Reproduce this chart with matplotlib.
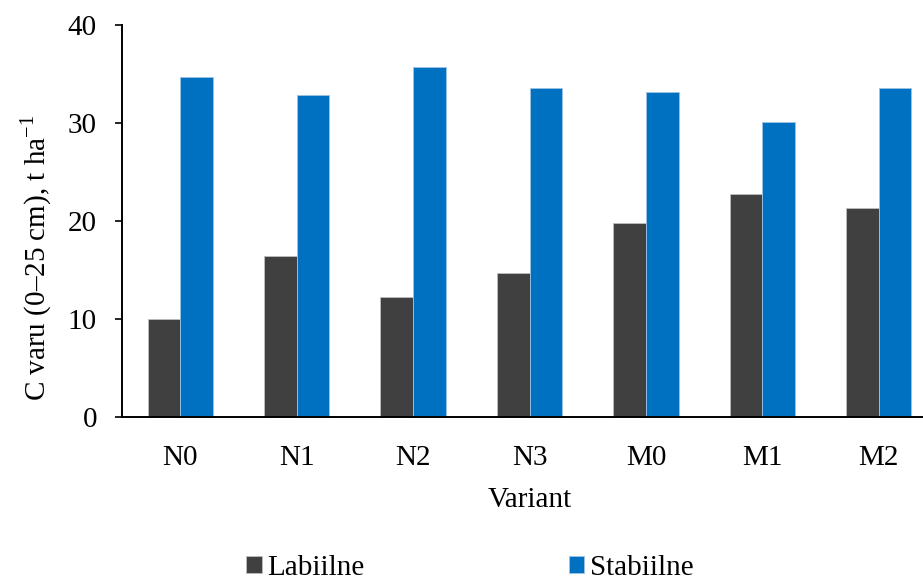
import matplotlib
matplotlib.use("Agg")
import matplotlib.pyplot as plt
import numpy as np

variants = ["N0", "N1", "N2", "N3", "M0", "M1", "M2"]
labiilne = [10.0, 16.4, 12.2, 14.7, 19.8, 22.8, 21.3]
stabiilne = [34.7, 32.9, 35.7, 33.6, 33.2, 30.1, 33.6]

plt.rcParams["font.family"] = ["Liberation Serif", "DejaVu Serif"]
plt.rcParams["mathtext.fontset"] = "custom"
plt.rcParams["mathtext.rm"] = "Liberation Serif"

W, H = 923, 580
fig = plt.figure(figsize=(W / 100, H / 100), dpi=100, facecolor="#FFFFFF")
# axes span: x 122..937 px (right side runs past the figure), y 25..417 px
ax = fig.add_axes([122 / W, 1 - 417 / H, 815 / W, 392 / H])

x = np.arange(len(variants))
bw = 0.28
ax.bar(x - bw / 2, labiilne, bw, color="#404040", edgecolor="#BFBFBF",
       linewidth=0.6, label="Labiilne")
ax.bar(x + bw / 2, stabiilne, bw, color="#0070C0", edgecolor="#9DC3E6",
       linewidth=0.6, label="Stabiilne")

ax.set_xlim(-0.5, len(variants) - 0.5)
ax.set_ylim(0, 40)
ax.set_yticks([0, 10, 20, 30, 40])
ax.set_xticks(x)
ax.set_xticklabels(variants)

fs = 21
ax.tick_params(axis="y", direction="out", length=5, width=1.2, pad=13,
               labelsize=fs, colors="#000000")
ax.tick_params(axis="x", length=0, pad=20, labelsize=fs, colors="#000000")

ax.spines["top"].set_visible(False)
ax.spines["right"].set_visible(False)
ax.spines["left"].set_linewidth(1.4)
ax.spines["bottom"].set_linewidth(1.4)

ax.set_xlabel("Variant", fontsize=fs, labelpad=12)
ax.set_ylabel(r"C varu (0–25 cm), t ha$^{-1}$", fontsize=fs)
ax.yaxis.set_label_coords(-0.084, 0.406)

fig.legend(loc="center", bbox_to_anchor=(470 / W, 1 - 568 / H), ncol=2,
           frameon=False, fontsize=fs, handlelength=0.52, handleheight=0.52,
           handletextpad=0.2, columnspacing=7.0)

fig.savefig("out.png", dpi=100, facecolor="#FFFFFF")
